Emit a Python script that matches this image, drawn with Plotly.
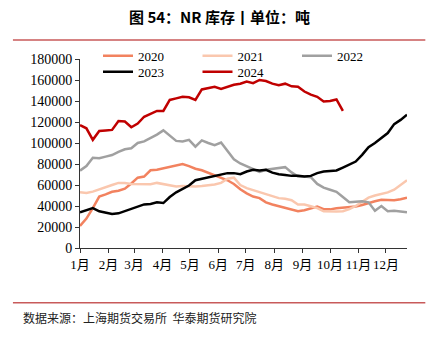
import plotly.graph_objects as go

# Weekly NR inventory (tonnes), one value per week starting in early January
weeks = list(range(52))
days = [7 * w for w in weeks]

inv_2020 = [21000, 28000, 38000, 49000, 51000, 53500, 54500, 56500, 61500, 67000,
            68000, 74000, 74500, 76000, 77500, 79000, 80000, 78000, 75500, 74000,
            71500, 69000, 67000, 64500, 61000, 56000, 52000, 49000, 47500, 43500,
            41500, 40000, 38500, 36800, 35000, 36000, 37500, 39400, 37000, 36800,
            37800, 38500, 39000, 39500, 41000, 43000, 44500, 46000, 45500, 45500,
            46500, 48000]
inv_2021 = [53000, 52300, 53700, 56000, 58000, 60000, 62000, 62000, 61000, 60700,
            60700, 60700, 62000, 60700, 59800, 58500, 59000, 58500, 58500, 59000,
            59500, 60500, 62000, 66000, 67000, 60000, 57000, 55000, 53000, 51500,
            49000, 47500, 46800, 45500, 41500, 41500, 39800, 38000, 35000, 34700,
            34700, 35000, 37000, 40000, 44000, 48000, 50000, 51500, 53000, 55500,
            60000, 64500]
inv_2022 = [73700, 78000, 86000, 85500, 87000, 88500, 91500, 94000, 95000, 100000,
            101500, 104500, 108000, 112000, 107000, 102000, 101500, 103000, 96500, 102500,
            100000, 98000, 100500, 92000, 84500, 80500, 78000, 75500, 72500, 74500,
            75500, 76500, 77000, 72000, 68000, 68000, 67500, 61000, 57500, 55500,
            53500, 48500, 43500, 44000, 44500, 43500, 35500, 40000, 35000, 35500,
            34500, 34000]
inv_2023 = [34000, 36000, 38000, 35000, 33700, 32500, 33000, 35000, 37000, 39000,
            41500, 42000, 43500, 42800, 48500, 53000, 56500, 59500, 64500, 65800,
            67000, 68500, 69500, 71300, 71300, 70300, 72800, 74400, 73800, 74400,
            71800, 70300, 69600, 68700, 68700, 68000, 68700, 71300, 72800, 73500,
            73800, 76600, 79200, 82300, 88700, 96000, 100000, 104500, 109500, 118000,
            122000, 127000]
inv_2024 = [117000, 114000, 103000, 111500, 112000, 112500, 121000, 120500, 115000, 118500,
            125000, 128000, 130500, 130500, 141000, 142500, 144000, 143500, 141000, 151000,
            152500, 153500, 151500, 153500, 155500, 156500, 158500, 157000, 160000, 159000,
            156500, 155000, 156500, 154000, 153500, 149000, 146000, 144000, 139500, 140000,
            141500, 130500]

series_names = ["2020", "2021", "2022", "2023", "2024"]
series_values = [inv_2020, inv_2021, inv_2022, inv_2023, inv_2024]
series_colors = ["#F2825F", "#FAC7AE", "#A0A0A0", "#000000", "#C00000"]
series_legend = ["legend", "legend", "legend", "legend2", "legend2"]

month_starts = [0, 31, 59, 90, 120, 151, 181, 212, 243, 273, 304, 334]
month_labels = ["1月", "2月", "3月", "4月", "5月", "6月", "7月", "8月",
                "9月", "10月", "11月", "12月"]
y_ticks = list(range(0, 180001, 20000))

W, H = 434, 341
PL, PR, PT, PB = 80, 406.7, 59, 248  # plot area in pixels


def fx(px):
    return (px - PL) / (PR - PL)


def fy(py):
    return (PB - py) / (PB - PT)


fig = go.Figure()
for name, vals, color, lg in zip(series_names, series_values, series_colors, series_legend):
    fig.add_trace(go.Scatter(
        x=days[:len(vals)], y=vals, name=name, mode="lines",
        line=dict(color=color, width=2.5), legend=lg,
    ))

serif = "Liberation Serif, Noto Sans CJK SC, serif"
axis_color = "#333333"

legend_common = dict(
    orientation="h", xref="container", yref="container",
    xanchor="left", yanchor="middle",
    entrywidth=54.5, entrywidthmode="pixels",
    font=dict(family=serif, size=13, color="#000"),
    bgcolor="rgba(0,0,0,0)", borderwidth=0,
    itemwidth=30, tracegroupgap=0,
)

fig.update_layout(
    width=W, height=H,
    margin=dict(l=PL, r=W - PR, t=PT, b=H - PB, autoexpand=False),
    paper_bgcolor="white", plot_bgcolor="white",
    showlegend=True,
    legend=dict(x=98 / W, y=1 - 55.7 / H, **legend_common),
    legend2=dict(x=98 / W, y=1 - 71.7 / H, **legend_common),
    xaxis=dict(
        range=[0, 357], tickmode="array", tickvals=month_starts, ticktext=month_labels,
        tickangle=0,
        showgrid=False, zeroline=False, showline=True, linecolor=axis_color, linewidth=1,
        ticks="outside", ticklen=4, tickcolor=axis_color, tickwidth=1,
        tickfont=dict(family=serif, size=13, color="#000"),
    ),
    yaxis=dict(
        range=[0, 180000], tickmode="array", tickvals=y_ticks,
        ticktext=[str(v) for v in y_ticks],
        showgrid=False, zeroline=False, showline=True, linecolor=axis_color, linewidth=1,
        ticks="outside", ticklen=4, tickcolor=axis_color, tickwidth=1,
        tickfont=dict(family=serif, size=14, color="#000"),
    ),
)

rule_color = "#C85A5A"
fig.add_shape(type="line", xref="paper", yref="paper",
              x0=fx(13), x1=fx(425), y0=fy(40), y1=fy(40),
              line=dict(color=rule_color, width=1.5))
fig.add_shape(type="line", xref="paper", yref="paper",
              x0=fx(13), x1=fx(425), y0=fy(302.7), y1=fy(302.7),
              line=dict(color=rule_color, width=1.5))

fig.add_annotation(
    text="<b>图 54：NR 库存丨单位：吨</b>", xref="paper", yref="paper",
    x=fx(219), y=fy(17), xanchor="center", yanchor="middle", showarrow=False,
    font=dict(family="Noto Sans CJK SC", size=15, color="#000"),
)
fig.add_annotation(
    text="数据来源：上海期货交易所  华泰期货研究院", xref="paper", yref="paper",
    x=fx(21), y=fy(317), xanchor="left", yanchor="middle", showarrow=False,
    font=dict(family="Noto Sans CJK SC", size=12, color="#222"),
)

fig.write_html("out.html")
